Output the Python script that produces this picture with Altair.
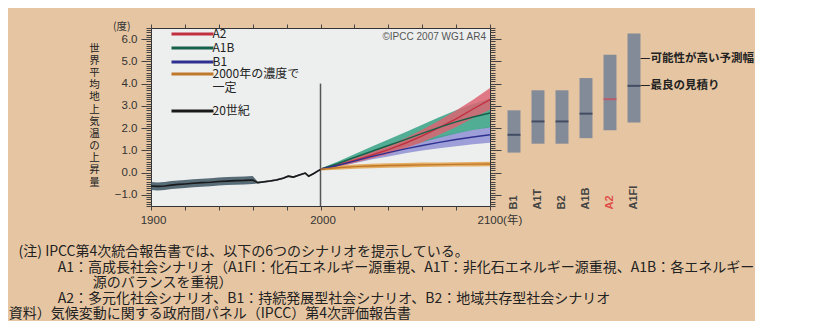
import altair as alt
import pandas as pd

FONT = "Noto Sans CJK JP"
NUMFONT = "Liberation Sans, Noto Sans CJK JP"
ZW = "\u200b"  # keeps leading indentation from being trimmed

# ---------------- 20th century ----------------
hist_years = [1900, 1904, 1908, 1912, 1916, 1920, 1925, 1930, 1935, 1940, 1945, 1950, 1955, 1960,
              1963, 1966, 1970, 1974, 1978, 1981, 1984, 1987, 1991, 1993, 1996, 1999, 2000]
hist_temp = [-0.60, -0.62, -0.60, -0.56, -0.53, -0.51, -0.48, -0.45, -0.43, -0.40, -0.38, -0.36, -0.35, -0.33,
             -0.45, -0.42, -0.38, -0.33, -0.25, -0.16, -0.20, -0.12, -0.02, -0.16, -0.04, 0.10, 0.13]
hist_lo = [-0.78, -0.80, -0.78, -0.74, -0.71, -0.69, -0.66, -0.63, -0.61, -0.58, -0.56, -0.54, -0.53, -0.51,
           -0.49, -0.46, -0.42, -0.37, -0.29, -0.20, -0.24, -0.16, -0.06, -0.20, -0.08, 0.06, 0.09]
hist_hi = [-0.42, -0.44, -0.42, -0.38, -0.35, -0.33, -0.30, -0.27, -0.25, -0.22, -0.20, -0.18, -0.17, -0.15,
           -0.41, -0.38, -0.34, -0.29, -0.21, -0.12, -0.16, -0.08, 0.02, -0.12, 0.00, 0.14, 0.17]

# ---------------- projections ----------------
proj_years = [2000, 2010, 2020, 2030, 2040, 2050, 2060, 2070, 2080, 2090, 2100]
a2_mean = [0.15, 0.33, 0.55, 0.78, 1.03, 1.32, 1.65, 2.02, 2.42, 2.86, 3.28]
a2_lo = [0.12, 0.26, 0.44, 0.63, 0.84, 1.09, 1.37, 1.70, 2.05, 2.45, 2.83]
a2_hi = [0.18, 0.40, 0.66, 0.93, 1.22, 1.55, 1.93, 2.34, 2.79, 3.27, 3.80]
a1b_mean = [0.15, 0.40, 0.68, 0.95, 1.22, 1.48, 1.76, 2.03, 2.28, 2.50, 2.68]
a1b_lo = [0.12, 0.31, 0.53, 0.74, 0.95, 1.15, 1.37, 1.57, 1.76, 1.92, 2.03]
a1b_hi = [0.18, 0.49, 0.83, 1.16, 1.49, 1.81, 2.15, 2.49, 2.80, 3.08, 3.33]
b1_mean = [0.15, 0.32, 0.52, 0.72, 0.90, 1.07, 1.22, 1.36, 1.49, 1.60, 1.70]
b1_lo = [0.12, 0.26, 0.42, 0.59, 0.73, 0.87, 0.99, 1.09, 1.19, 1.27, 1.34]
b1_hi = [0.18, 0.38, 0.62, 0.85, 1.07, 1.27, 1.45, 1.63, 1.79, 1.93, 2.06]
const_mean = [0.15, 0.22, 0.27, 0.30, 0.32, 0.33, 0.35, 0.36, 0.37, 0.38, 0.39]
const_lo = [0.10, 0.13, 0.17, 0.20, 0.22, 0.23, 0.25, 0.26, 0.27, 0.28, 0.29]
const_hi = [0.20, 0.31, 0.37, 0.40, 0.42, 0.43, 0.45, 0.46, 0.47, 0.48, 0.49]

series_names = ["A2", "A1B", "B1", "2000年の濃度で一定"]
band_colors = ["#dc6472", "#35a285", "#8f90d4", "#e2a24c"]
line_colors = ["#c0303f", "#17604a", "#2e3190", "#c0782a"]
hist_name = "20世紀"

# ---------------- right panel: likely ranges in 2100 ----------------
bar_scen = ["B1", "A1T", "B2", "A1B", "A2", "A1FI"]
bar_lo = [0.90, 1.30, 1.30, 1.55, 1.90, 2.25]
bar_best = [1.70, 2.30, 2.30, 2.65, 3.30, 3.90]
bar_hi = [2.80, 3.70, 3.70, 4.25, 5.30, 6.25]

ann_text = ["—可能性が高い予測幅", "—最良の見積り"]
ann_y = [5.1, 3.9]

ytitle = "世界平均地上気温の上昇量"
notes = [
    ZW + "\u2002\u2009(注) IPCC第4次統合報告書では、以下の6つのシナリオを提示している。",
    ZW + "\u3000\u3000\u3000\u2002A1：高成長社会シナリオ（A1FI：化石エネルギー源重視、A1T：非化石エネルギー源重視、A1B：各エネルギー",
    ZW + "\u3000\u3000\u3000\u3000\u3000\u3000源のバランスを重視）",
    ZW + "\u3000\u3000\u3000\u2002A2：多元化社会シナリオ、B1：持続発展型社会シナリオ、B2：地域共存型社会シナリオ",
    "資料）気候変動に関する政府間パネル（IPCC）第4次評価報告書",
]

# ---------------- data frames ----------------
hist = pd.DataFrame({"year": hist_years, "temp": hist_temp, "lo": hist_lo, "hi": hist_hi,
                     "series": [hist_name] * len(hist_years)})
rows = []
for name, m, lo, hi in zip(series_names,
                           [a2_mean, a1b_mean, b1_mean, const_mean],
                           [a2_lo, a1b_lo, b1_lo, const_lo],
                           [a2_hi, a1b_hi, b1_hi, const_hi]):
    for yr, mm, l, h in zip(proj_years, m, lo, hi):
        rows.append({"year": yr, "mean": mm, "lo": l, "hi": h, "series": name})
proj = pd.DataFrame(rows)
rule_df = pd.DataFrame({"year": [2000], "y0": [-1.5], "y1": [4.0]})
copy_df = pd.DataFrame({"year": [2100], "y": [6.5], "t": ["©IPCC 2007 WG1 AR4"]})
bars = pd.DataFrame({"scen": bar_scen, "lo": bar_lo, "best": bar_best, "hi": bar_hi})
ann = pd.DataFrame({"scen": ["A1FI", "A1FI"], "y": ann_y, "t": ann_text})

# ---------------- scales / axes ----------------
xs = alt.Scale(domain=[1900, 2100], nice=False, zero=False)
ys = alt.Scale(domain=[-1.5, 6.5], nice=False, zero=False)
yvals = [round(v * 0.1, 1) for v in range(-15, 66)]
xvals = list(range(1900, 2101, 20))
major = "abs(datum.value - round(datum.value)) < 0.001"

ax_left = alt.Axis(
    orient="left", values=yvals,
    labelExpr=f"({major}) ? format(datum.value, '.1f') : ''",
    labelOverlap=False, labelFont=NUMFONT, labelFontSize=11.5, labelColor="#333",
    tickSize={"condition": {"test": major, "value": 10}, "value": 5},
    tickColor="#444", labelPadding=4, domain=False, grid=False,
    title=list(ytitle), titleAngle=0, titleX=-57, titleY=15,
    titleAlign="center", titleBaseline="top", titleLineHeight=12.2,
    titleFont=FONT, titleFontSize=10.5, titleColor="#222", titleFontWeight="normal",
)
ax_right = alt.Axis(
    orient="right", values=yvals, labels=False,
    tickSize={"condition": {"test": major, "value": 11}, "value": 5},
    tickColor="#444", domain=False, grid=False, title=None,
)
ax_bottom = alt.Axis(
    orient="bottom", values=xvals,
    labelExpr="datum.value == 2100 ? '2100(年)' : ((datum.value == 1900 || datum.value == 2000) ? '' + datum.value : '')",
    labelAlign={"condition": {"test": "datum.value == 2100", "value": "left"}, "value": "center"},
    labelOffset={"condition": {"test": "datum.value == 2100", "value": -13}, "value": 2},
    labelFlush=False, labelOverlap=False, labelFont=NUMFONT, labelFontSize=11.5, labelColor="#333",
    tickSize=4, tickColor="#444", labelPadding=4, domain=False, grid=False, title=None,
)
ax_top = alt.Axis(orient="top", values=xvals, labels=False, tickSize=4, tickColor="#444",
                  domain=False, grid=False, title=None)

xnone = alt.X("year:Q", scale=xs, axis=None)

# legend swatch: a 42px horizontal line drawn to the right of the symbol anchor
SWATCH = "M0,0H12"


def legend_at(y, **extra):
    return alt.Legend(orient="none", legendX=14.5, legendY=y, title=None,
                      symbolType=SWATCH, symbolSize=49, symbolStrokeWidth=3,
                      labelFont=FONT, labelFontSize=12, labelColor="#222", labelOffset=35,
                      rowPadding=2, padding=0, **extra)


layers = []
layers.append(
    alt.Chart(hist).mark_area(color="#3c5561", opacity=0.85).encode(
        x=alt.X("year:Q", scale=xs, axis=ax_bottom),
        y=alt.Y("lo:Q", scale=ys, axis=ax_left), y2="hi:Q")
)
layers.append(
    alt.Chart(rule_df).mark_rule(color="#555", strokeWidth=1.5).encode(
        x=xnone, y=alt.Y("y0:Q", scale=ys, axis=None), y2="y1:Q")
)
for name in ["B1", "A1B", "A2", "2000年の濃度で一定"]:
    c = band_colors[series_names.index(name)]
    layers.append(
        alt.Chart(proj).transform_filter(alt.datum.series == name).mark_area(color=c, opacity=0.85).encode(
            x=xnone, y=alt.Y("lo:Q", scale=ys, axis=None), y2="hi:Q")
    )
# scenario mean lines (three scenarios) -> legend 1
layers.append(
    alt.Chart(proj).transform_filter(
        alt.FieldOneOfPredicate(field="series", oneOf=series_names[:3])
    ).mark_line(strokeWidth=1.4).encode(
        x=xnone, y=alt.Y("mean:Q", scale=ys, axis=None),
        stroke=alt.Stroke("series:N", scale=alt.Scale(domain=series_names[:3], range=line_colors[:3]),
                          legend=legend_at(0)))
)
# constant-concentration line -> legend 2 (two-line label)
layers.append(
    alt.Chart(proj).transform_filter(alt.datum.series == series_names[3]).mark_line(strokeWidth=1.4).encode(
        x=xnone, y=alt.Y("mean:Q", scale=ys, axis=None),
        stroke=alt.Stroke("series:N", scale=alt.Scale(domain=series_names[3:], range=line_colors[3:]),
                          legend=legend_at(40, labelExpr="['2000年の濃度で', '一定']")))
)
# 20th century line -> legend 3, carries the top and right axes
layers.append(
    alt.Chart(hist).mark_line(strokeWidth=1.6).encode(
        x=alt.X("year:Q", scale=xs, axis=ax_top),
        y=alt.Y("temp:Q", scale=ys, axis=ax_right),
        stroke=alt.Stroke("series:N", scale=alt.Scale(domain=[hist_name], range=["#1a1a1a"]),
                          legend=legend_at(77)))
)
layers.append(
    alt.Chart(copy_df).mark_text(align="right", baseline="top", dx=-4, dy=4, fontSize=10,
                                 font=NUMFONT, color="#555").encode(
        x=xnone, y=alt.Y("y:Q", scale=ys, axis=None), text="t:N")
)

left = alt.layer(*layers).resolve_scale(stroke="independent").resolve_axis(
    x="independent", y="independent"
).properties(
    width=339, height=178,
    title=alt.TitleParams(text="(度)", anchor="start", frame="group", dx=-38, offset=0, dy=10,
                          fontSize=10.5, font=FONT, fontWeight="normal", color="#333"),
    view=alt.ViewBackground(fill="#edefee", stroke="#333", strokeWidth=1),
)

# ---------------- right panel ----------------
xb = alt.X("scen:N", scale=alt.Scale(domain=bar_scen, paddingInner=0.46, paddingOuter=0.73),
           axis=alt.Axis(title=None, labelAngle=270, labelAlign="left", labelBaseline="middle",
                         ticks=False, domain=False, labelPadding=3, labelFont=NUMFONT,
                         labelFontSize=11, labelFontWeight="bold",
                         labelColor={"condition": {"test": "datum.value == 'A2'", "value": "#e0504a"},
                                     "value": "#444"}))
ybar = alt.Y("lo:Q", scale=ys, axis=None)
bar_layer = alt.Chart(bars).mark_bar(color="#7d8798", opacity=0.95).encode(x=xb, y=ybar, y2="hi:Q")
best_layer = alt.Chart(bars).mark_tick(thickness=2, size=13).encode(
    x=xb, y=alt.Y("best:Q", scale=ys, axis=None),
    color=alt.condition(alt.datum.scen == "A2", alt.value("#d04a5a"), alt.value("#27324d")))
ann_layer = alt.Chart(ann).mark_text(align="left", dx=6, fontSize=11.5, font=FONT,
                                     fontWeight="bold", color="#222").encode(
    x=xb, y=alt.Y("y:Q", scale=ys, axis=None), text="t:N")

right = alt.layer(bar_layer, best_layer, ann_layer).properties(
    width=168, height=178,
    view=alt.ViewBackground(stroke="transparent", fill="transparent"),
)

chart = alt.hconcat(left, right, spacing=0, bounds="flush").properties(
    title=alt.TitleParams(text=notes, orient="bottom", anchor="start", frame="bounds",
                          dx=-79.5, offset=19, fontSize=14, font=FONT, fontWeight="normal",
                          color="#222", lineHeight=15.5),
    padding={"left": 0, "top": 13, "right": 0, "bottom": 0},
).configure(background="#e6c6a2", font=FONT)

chart.save("out.html", embed_options={"renderer": "svg", "actions": False})
